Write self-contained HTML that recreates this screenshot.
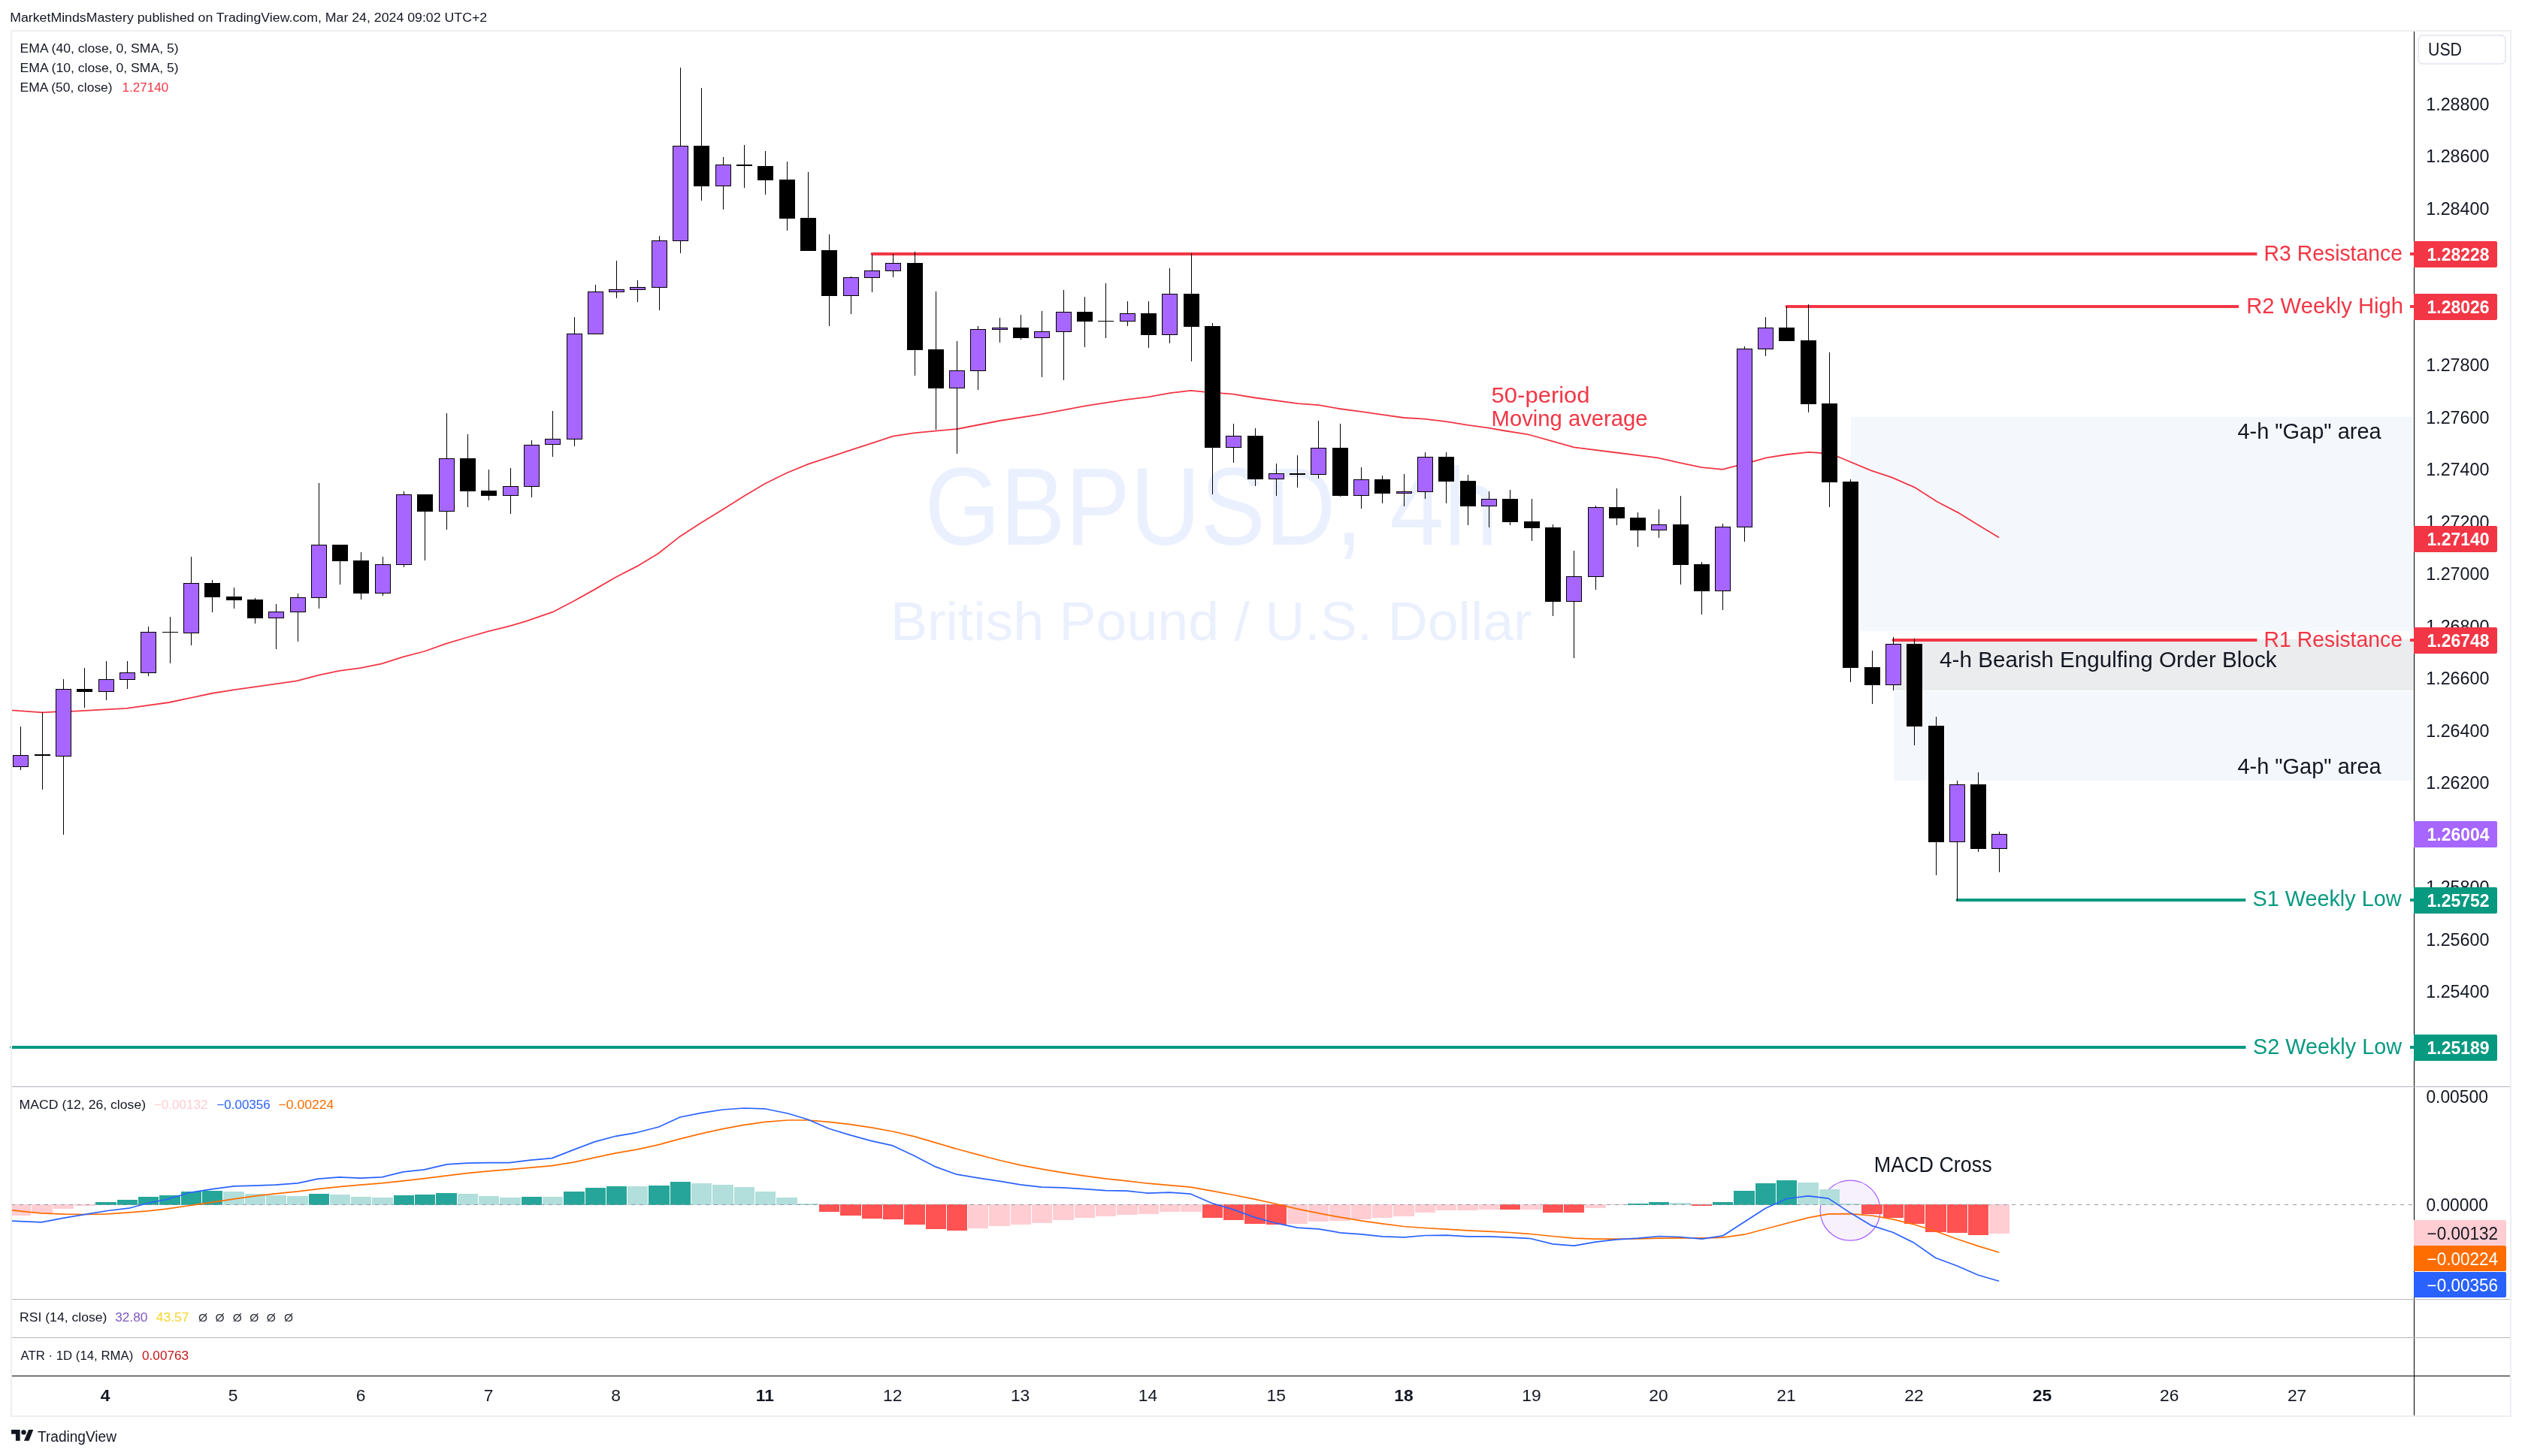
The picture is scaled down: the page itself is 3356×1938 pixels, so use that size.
<!DOCTYPE html><html><head><meta charset="utf-8"><title>GBPUSD 4h</title><style>html,body{margin:0;padding:0;background:#fff;width:3356px;height:1938px;overflow:hidden}svg{display:block;will-change:transform}text{font-family:"Liberation Sans",sans-serif}</style></head><body>
<svg width="3356" height="1938" viewBox="0 0 3356 1938">
<rect x="0" y="0" width="3356" height="1938" fill="#ffffff"/>
<text x="13.2" y="29.0" font-size="17.3" fill="#131722" textLength="635.0" lengthAdjust="spacingAndGlyphs">MarketMindsMastery published on TradingView.com, Mar 24, 2024 09:02 UTC+2</text>
<g id="main">
<text x="1230.4" y="725.0" font-size="147" fill="#ebf0fe" textLength="763.0" lengthAdjust="spacingAndGlyphs">GBPUSD, 4h</text>
<text x="1184.9" y="852.0" font-size="72" fill="#ebf0fe" textLength="853.7" lengthAdjust="spacingAndGlyphs">British Pound / U.S. Dollar</text>
<rect x="2463" y="555" width="749" height="285" fill="#f4f8fd"/>
<rect x="2520" y="851" width="692" height="68" fill="#ebecee"/>
<rect x="2520" y="920" width="692" height="119" fill="#f4f8fd"/>
<polyline points="15.3,945.3 56.6,948.3 74.1,947.4 94.9,946.9 168.2,942.9 224.8,935.0 281.4,923.0 310.0,918.4 394.7,906.3 423.1,898.9 451.5,892.8 479.8,889.2 508.1,883.4 536.4,874.4 564.7,867.0 593.0,856.8 621.3,848.5 649.6,840.3 677.9,833.3 700.0,826.9 735.3,814.7 763.2,800.2 792.1,784.1 819.9,768.0 849.9,752.6 875.6,737.0 903.4,715.1 932.3,696.3 960.1,679.2 989.0,661.0 1018.0,643.8 1046.9,629.5 1075.8,617.7 1104.7,608.1 1132.5,598.9 1160.3,589.9 1188.2,580.7 1216.0,576.4 1244.6,573.7 1273.8,571.0 1330.5,560.0 1385.4,551.4 1443.8,540.4 1498.8,531.8 1528.0,528.4 1557.1,523.2 1584.6,519.8 1605.2,521.8 1641.2,524.7 1670.4,529.5 1727.0,537.1 1754.5,539.1 1782.0,544.0 1812.9,548.1 1840.4,552.2 1867.9,556.0 1895.3,557.7 1924.5,561.1 1953.7,565.9 1981.2,569.7 2000.0,573.0 2034.3,578.5 2065.2,587.1 2094.4,595.3 2151.1,602.5 2206.0,609.4 2237.0,616.3 2264.4,622.1 2291.9,624.8 2329.7,615.2 2350.3,609.4 2377.7,605.0 2406.4,601.9 2424.0,603.0 2446.0,608.0 2490.0,626.4 2517.3,635.4 2547.5,648.6 2577.7,667.8 2605.2,682.1 2632.7,699.1 2660.1,715.6" fill="none" stroke="#f23645" stroke-width="1.8" stroke-linejoin="round"/>
<rect x="1160.5" y="336" width="1842.9" height="4" fill="#f23645"/>
<circle cx="1160.5" cy="338" r="2" fill="#f23645"/>
<rect x="2377.5" y="406" width="601.6999999999998" height="4" fill="#f23645"/>
<circle cx="2377.5" cy="408" r="2" fill="#f23645"/>
<rect x="2519.5" y="850" width="483.9000000000001" height="4" fill="#f23645"/>
<circle cx="2519.5" cy="852" r="2" fill="#f23645"/>
<rect x="2604.5" y="1196" width="383.8000000000002" height="4" fill="#089981"/>
<circle cx="2604.5" cy="1198" r="2" fill="#089981"/>
<rect x="15" y="1392" width="2973.5" height="4" fill="#089981"/>
<circle cx="15" cy="1394" r="2" fill="#089981"/>
<rect x="27" y="967" width="1" height="58" fill="#000"/>
<rect x="17" y="1005" width="21" height="16" fill="#000"/>
<rect x="18" y="1006" width="19" height="14" fill="#a666ff"/>
<rect x="56" y="948" width="1" height="103" fill="#000"/>
<rect x="46" y="1004" width="21" height="2" fill="#000"/>
<rect x="84" y="904" width="1" height="207" fill="#000"/>
<rect x="74" y="917" width="21" height="90" fill="#000"/>
<rect x="75" y="918" width="19" height="88" fill="#a666ff"/>
<rect x="112" y="889" width="1" height="53" fill="#000"/>
<rect x="102" y="917" width="21" height="4" fill="#000"/>
<rect x="141" y="880" width="1" height="52" fill="#000"/>
<rect x="131" y="904" width="21" height="17" fill="#000"/>
<rect x="132" y="905" width="19" height="15" fill="#a666ff"/>
<rect x="169" y="880" width="1" height="37" fill="#000"/>
<rect x="159" y="895" width="21" height="10" fill="#000"/>
<rect x="160" y="896" width="19" height="8" fill="#a666ff"/>
<rect x="197" y="834" width="1" height="66" fill="#000"/>
<rect x="187" y="841" width="21" height="55" fill="#000"/>
<rect x="188" y="842" width="19" height="53" fill="#a666ff"/>
<rect x="226" y="821" width="1" height="62" fill="#000"/>
<rect x="216" y="841" width="21" height="1" fill="#000"/>
<rect x="254" y="741" width="1" height="118" fill="#000"/>
<rect x="244" y="776" width="21" height="67" fill="#000"/>
<rect x="245" y="777" width="19" height="65" fill="#a666ff"/>
<rect x="282" y="772" width="1" height="43" fill="#000"/>
<rect x="272" y="776" width="21" height="19" fill="#000"/>
<rect x="311" y="782" width="1" height="28" fill="#000"/>
<rect x="301" y="794" width="21" height="5" fill="#000"/>
<rect x="339" y="796" width="1" height="34" fill="#000"/>
<rect x="329" y="798" width="21" height="25" fill="#000"/>
<rect x="367" y="804" width="1" height="60" fill="#000"/>
<rect x="357" y="814" width="21" height="9" fill="#000"/>
<rect x="358" y="815" width="19" height="7" fill="#a666ff"/>
<rect x="396" y="790" width="1" height="64" fill="#000"/>
<rect x="386" y="795" width="21" height="20" fill="#000"/>
<rect x="387" y="796" width="19" height="18" fill="#a666ff"/>
<rect x="424" y="643" width="1" height="167" fill="#000"/>
<rect x="414" y="725" width="21" height="71" fill="#000"/>
<rect x="415" y="726" width="19" height="69" fill="#a666ff"/>
<rect x="452" y="725" width="1" height="53" fill="#000"/>
<rect x="442" y="725" width="21" height="22" fill="#000"/>
<rect x="480" y="735" width="1" height="63" fill="#000"/>
<rect x="470" y="746" width="21" height="44" fill="#000"/>
<rect x="509" y="741" width="1" height="52" fill="#000"/>
<rect x="499" y="751" width="21" height="39" fill="#000"/>
<rect x="500" y="752" width="19" height="37" fill="#a666ff"/>
<rect x="537" y="654" width="1" height="101" fill="#000"/>
<rect x="527" y="658" width="21" height="94" fill="#000"/>
<rect x="528" y="659" width="19" height="92" fill="#a666ff"/>
<rect x="565" y="658" width="1" height="88" fill="#000"/>
<rect x="555" y="658" width="21" height="23" fill="#000"/>
<rect x="594" y="550" width="1" height="155" fill="#000"/>
<rect x="584" y="610" width="21" height="71" fill="#000"/>
<rect x="585" y="611" width="19" height="69" fill="#a666ff"/>
<rect x="622" y="578" width="1" height="97" fill="#000"/>
<rect x="612" y="610" width="21" height="44" fill="#000"/>
<rect x="650" y="625" width="1" height="41" fill="#000"/>
<rect x="640" y="653" width="21" height="7" fill="#000"/>
<rect x="679" y="623" width="1" height="61" fill="#000"/>
<rect x="669" y="647" width="21" height="13" fill="#000"/>
<rect x="670" y="648" width="19" height="11" fill="#a666ff"/>
<rect x="707" y="586" width="1" height="76" fill="#000"/>
<rect x="697" y="592" width="21" height="56" fill="#000"/>
<rect x="698" y="593" width="19" height="54" fill="#a666ff"/>
<rect x="735" y="547" width="1" height="61" fill="#000"/>
<rect x="725" y="584" width="21" height="8" fill="#000"/>
<rect x="726" y="585" width="19" height="6" fill="#a666ff"/>
<rect x="764" y="422" width="1" height="172" fill="#000"/>
<rect x="754" y="444" width="21" height="141" fill="#000"/>
<rect x="755" y="445" width="19" height="139" fill="#a666ff"/>
<rect x="792" y="379" width="1" height="66" fill="#000"/>
<rect x="782" y="388" width="21" height="57" fill="#000"/>
<rect x="783" y="389" width="19" height="55" fill="#a666ff"/>
<rect x="820" y="347" width="1" height="50" fill="#000"/>
<rect x="810" y="385" width="21" height="4" fill="#000"/>
<rect x="811" y="386" width="19" height="2" fill="#a666ff"/>
<rect x="848" y="373" width="1" height="29" fill="#000"/>
<rect x="838" y="382" width="21" height="4" fill="#000"/>
<rect x="839" y="383" width="19" height="2" fill="#a666ff"/>
<rect x="877" y="314" width="1" height="99" fill="#000"/>
<rect x="867" y="320" width="21" height="63" fill="#000"/>
<rect x="868" y="321" width="19" height="61" fill="#a666ff"/>
<rect x="905" y="90" width="1" height="247" fill="#000"/>
<rect x="895" y="194" width="21" height="127" fill="#000"/>
<rect x="896" y="195" width="19" height="125" fill="#a666ff"/>
<rect x="933" y="117" width="1" height="150" fill="#000"/>
<rect x="923" y="194" width="21" height="54" fill="#000"/>
<rect x="962" y="209" width="1" height="70" fill="#000"/>
<rect x="952" y="219" width="21" height="29" fill="#000"/>
<rect x="953" y="220" width="19" height="27" fill="#a666ff"/>
<rect x="990" y="193" width="1" height="57" fill="#000"/>
<rect x="980" y="219" width="21" height="2" fill="#000"/>
<rect x="1018" y="201" width="1" height="58" fill="#000"/>
<rect x="1008" y="221" width="21" height="19" fill="#000"/>
<rect x="1047" y="215" width="1" height="92" fill="#000"/>
<rect x="1037" y="239" width="21" height="52" fill="#000"/>
<rect x="1075" y="229" width="1" height="105" fill="#000"/>
<rect x="1065" y="290" width="21" height="44" fill="#000"/>
<rect x="1103" y="312" width="1" height="122" fill="#000"/>
<rect x="1093" y="333" width="21" height="61" fill="#000"/>
<rect x="1132" y="368" width="1" height="50" fill="#000"/>
<rect x="1122" y="369" width="21" height="25" fill="#000"/>
<rect x="1123" y="370" width="19" height="23" fill="#a666ff"/>
<rect x="1160" y="339" width="1" height="50" fill="#000"/>
<rect x="1150" y="360" width="21" height="10" fill="#000"/>
<rect x="1151" y="361" width="19" height="8" fill="#a666ff"/>
<rect x="1188" y="338" width="1" height="31" fill="#000"/>
<rect x="1178" y="350" width="21" height="11" fill="#000"/>
<rect x="1179" y="351" width="19" height="9" fill="#a666ff"/>
<rect x="1217" y="335" width="1" height="165" fill="#000"/>
<rect x="1207" y="350" width="21" height="116" fill="#000"/>
<rect x="1245" y="388" width="1" height="184" fill="#000"/>
<rect x="1235" y="465" width="21" height="52" fill="#000"/>
<rect x="1273" y="454" width="1" height="150" fill="#000"/>
<rect x="1263" y="493" width="21" height="24" fill="#000"/>
<rect x="1264" y="494" width="19" height="22" fill="#a666ff"/>
<rect x="1301" y="434" width="1" height="85" fill="#000"/>
<rect x="1291" y="438" width="21" height="56" fill="#000"/>
<rect x="1292" y="439" width="19" height="54" fill="#a666ff"/>
<rect x="1330" y="423" width="1" height="33" fill="#000"/>
<rect x="1320" y="436" width="21" height="3" fill="#000"/>
<rect x="1321" y="437" width="19" height="1" fill="#a666ff"/>
<rect x="1358" y="419" width="1" height="33" fill="#000"/>
<rect x="1348" y="436" width="21" height="14" fill="#000"/>
<rect x="1386" y="414" width="1" height="88" fill="#000"/>
<rect x="1376" y="441" width="21" height="9" fill="#000"/>
<rect x="1377" y="442" width="19" height="7" fill="#a666ff"/>
<rect x="1415" y="386" width="1" height="120" fill="#000"/>
<rect x="1405" y="415" width="21" height="27" fill="#000"/>
<rect x="1406" y="416" width="19" height="25" fill="#a666ff"/>
<rect x="1443" y="395" width="1" height="67" fill="#000"/>
<rect x="1433" y="415" width="21" height="13" fill="#000"/>
<rect x="1471" y="377" width="1" height="73" fill="#000"/>
<rect x="1461" y="427" width="21" height="1" fill="#000"/>
<rect x="1500" y="401" width="1" height="33" fill="#000"/>
<rect x="1490" y="417" width="21" height="11" fill="#000"/>
<rect x="1491" y="418" width="19" height="9" fill="#a666ff"/>
<rect x="1528" y="401" width="1" height="62" fill="#000"/>
<rect x="1518" y="417" width="21" height="29" fill="#000"/>
<rect x="1556" y="357" width="1" height="100" fill="#000"/>
<rect x="1546" y="391" width="21" height="55" fill="#000"/>
<rect x="1547" y="392" width="19" height="53" fill="#a666ff"/>
<rect x="1585" y="337" width="1" height="144" fill="#000"/>
<rect x="1575" y="391" width="21" height="44" fill="#000"/>
<rect x="1613" y="430" width="1" height="228" fill="#000"/>
<rect x="1603" y="434" width="21" height="162" fill="#000"/>
<rect x="1641" y="564" width="1" height="52" fill="#000"/>
<rect x="1631" y="580" width="21" height="16" fill="#000"/>
<rect x="1632" y="581" width="19" height="14" fill="#a666ff"/>
<rect x="1670" y="570" width="1" height="77" fill="#000"/>
<rect x="1660" y="580" width="21" height="58" fill="#000"/>
<rect x="1698" y="617" width="1" height="43" fill="#000"/>
<rect x="1688" y="630" width="21" height="8" fill="#000"/>
<rect x="1689" y="631" width="19" height="6" fill="#a666ff"/>
<rect x="1726" y="606" width="1" height="43" fill="#000"/>
<rect x="1716" y="630" width="21" height="2" fill="#000"/>
<rect x="1754" y="560" width="1" height="77" fill="#000"/>
<rect x="1744" y="596" width="21" height="36" fill="#000"/>
<rect x="1745" y="597" width="19" height="34" fill="#a666ff"/>
<rect x="1783" y="564" width="1" height="97" fill="#000"/>
<rect x="1773" y="596" width="21" height="64" fill="#000"/>
<rect x="1811" y="622" width="1" height="55" fill="#000"/>
<rect x="1801" y="638" width="21" height="22" fill="#000"/>
<rect x="1802" y="639" width="19" height="20" fill="#a666ff"/>
<rect x="1839" y="633" width="1" height="37" fill="#000"/>
<rect x="1829" y="638" width="21" height="19" fill="#000"/>
<rect x="1868" y="631" width="1" height="43" fill="#000"/>
<rect x="1858" y="654" width="21" height="3" fill="#000"/>
<rect x="1859" y="655" width="19" height="1" fill="#a666ff"/>
<rect x="1896" y="602" width="1" height="62" fill="#000"/>
<rect x="1886" y="608" width="21" height="47" fill="#000"/>
<rect x="1887" y="609" width="19" height="45" fill="#a666ff"/>
<rect x="1924" y="602" width="1" height="68" fill="#000"/>
<rect x="1914" y="608" width="21" height="33" fill="#000"/>
<rect x="1953" y="632" width="1" height="67" fill="#000"/>
<rect x="1943" y="640" width="21" height="34" fill="#000"/>
<rect x="1981" y="654" width="1" height="48" fill="#000"/>
<rect x="1971" y="664" width="21" height="10" fill="#000"/>
<rect x="1972" y="665" width="19" height="8" fill="#a666ff"/>
<rect x="2009" y="652" width="1" height="47" fill="#000"/>
<rect x="1999" y="664" width="21" height="31" fill="#000"/>
<rect x="2038" y="664" width="1" height="56" fill="#000"/>
<rect x="2028" y="694" width="21" height="9" fill="#000"/>
<rect x="2066" y="698" width="1" height="122" fill="#000"/>
<rect x="2056" y="702" width="21" height="99" fill="#000"/>
<rect x="2094" y="733" width="1" height="143" fill="#000"/>
<rect x="2084" y="767" width="21" height="34" fill="#000"/>
<rect x="2085" y="768" width="19" height="32" fill="#a666ff"/>
<rect x="2123" y="673" width="1" height="112" fill="#000"/>
<rect x="2113" y="675" width="21" height="93" fill="#000"/>
<rect x="2114" y="676" width="19" height="91" fill="#a666ff"/>
<rect x="2151" y="650" width="1" height="49" fill="#000"/>
<rect x="2141" y="675" width="21" height="15" fill="#000"/>
<rect x="2179" y="682" width="1" height="46" fill="#000"/>
<rect x="2169" y="689" width="21" height="17" fill="#000"/>
<rect x="2207" y="678" width="1" height="38" fill="#000"/>
<rect x="2197" y="698" width="21" height="8" fill="#000"/>
<rect x="2198" y="699" width="19" height="6" fill="#a666ff"/>
<rect x="2236" y="660" width="1" height="118" fill="#000"/>
<rect x="2226" y="698" width="21" height="54" fill="#000"/>
<rect x="2264" y="748" width="1" height="70" fill="#000"/>
<rect x="2254" y="751" width="21" height="36" fill="#000"/>
<rect x="2292" y="697" width="1" height="115" fill="#000"/>
<rect x="2282" y="701" width="21" height="86" fill="#000"/>
<rect x="2283" y="702" width="19" height="84" fill="#a666ff"/>
<rect x="2321" y="461" width="1" height="260" fill="#000"/>
<rect x="2311" y="464" width="21" height="238" fill="#000"/>
<rect x="2312" y="465" width="19" height="236" fill="#a666ff"/>
<rect x="2349" y="422" width="1" height="52" fill="#000"/>
<rect x="2339" y="436" width="21" height="29" fill="#000"/>
<rect x="2340" y="437" width="19" height="27" fill="#a666ff"/>
<rect x="2377" y="408" width="1" height="46" fill="#000"/>
<rect x="2367" y="436" width="21" height="18" fill="#000"/>
<rect x="2406" y="405" width="1" height="144" fill="#000"/>
<rect x="2396" y="453" width="21" height="85" fill="#000"/>
<rect x="2434" y="469" width="1" height="206" fill="#000"/>
<rect x="2424" y="537" width="21" height="105" fill="#000"/>
<rect x="2462" y="638" width="1" height="270" fill="#000"/>
<rect x="2452" y="641" width="21" height="248" fill="#000"/>
<rect x="2491" y="866" width="1" height="71" fill="#000"/>
<rect x="2481" y="888" width="21" height="24" fill="#000"/>
<rect x="2519" y="848" width="1" height="71" fill="#000"/>
<rect x="2509" y="857" width="21" height="55" fill="#000"/>
<rect x="2510" y="858" width="19" height="53" fill="#a666ff"/>
<rect x="2547" y="850" width="1" height="142" fill="#000"/>
<rect x="2537" y="857" width="21" height="110" fill="#000"/>
<rect x="2576" y="954" width="1" height="211" fill="#000"/>
<rect x="2566" y="966" width="21" height="155" fill="#000"/>
<rect x="2604" y="1039" width="1" height="160" fill="#000"/>
<rect x="2594" y="1044" width="21" height="77" fill="#000"/>
<rect x="2595" y="1045" width="19" height="75" fill="#a666ff"/>
<rect x="2632" y="1028" width="1" height="106" fill="#000"/>
<rect x="2622" y="1044" width="21" height="86" fill="#000"/>
<rect x="2660" y="1107" width="1" height="54" fill="#000"/>
<rect x="2650" y="1110" width="21" height="20" fill="#000"/>
<rect x="2651" y="1111" width="19" height="18" fill="#a666ff"/>
<text x="3012.6" y="347.4" font-size="28.6" fill="#f23645" textLength="184.4" lengthAdjust="spacingAndGlyphs">R3 Resistance</text>
<text x="2989.2" y="417.2" font-size="28.6" fill="#f23645" textLength="208.8" lengthAdjust="spacingAndGlyphs">R2 Weekly High</text>
<text x="3012.6" y="860.8" font-size="28.6" fill="#f23645" textLength="184.4" lengthAdjust="spacingAndGlyphs">R1 Resistance</text>
<text x="2997.5" y="1205.9" font-size="28.6" fill="#089981" textLength="198.0" lengthAdjust="spacingAndGlyphs">S1 Weekly Low</text>
<text x="2998.0" y="1403.0" font-size="28.6" fill="#089981" textLength="198.0" lengthAdjust="spacingAndGlyphs">S2 Weekly Low</text>
<text x="2977.4" y="584.4" font-size="28.6" fill="#131722" textLength="191.2" lengthAdjust="spacingAndGlyphs">4-h "Gap" area</text>
<text x="2977.4" y="1030.4" font-size="28.6" fill="#131722" textLength="191.2" lengthAdjust="spacingAndGlyphs">4-h "Gap" area</text>
<text x="2581.0" y="888.0" font-size="28.6" fill="#131722" textLength="448.6" lengthAdjust="spacingAndGlyphs">4-h Bearish Engulfing Order Block</text>
<text x="1984.6" y="536.4" font-size="28.6" fill="#f23645" textLength="131.0" lengthAdjust="spacingAndGlyphs">50-period</text>
<text x="1984.6" y="566.6" font-size="28.6" fill="#f23645" textLength="208.0" lengthAdjust="spacingAndGlyphs">Moving average</text>
<text x="26.6" y="69.8" font-size="16.6" fill="#131722" textLength="211.0" lengthAdjust="spacingAndGlyphs">EMA (40, close, 0, SMA, 5)</text>
<text x="26.6" y="96.0" font-size="16.6" fill="#131722" textLength="211.0" lengthAdjust="spacingAndGlyphs">EMA (10, close, 0, SMA, 5)</text>
<text x="26.6" y="122.1" font-size="16.6" fill="#131722" textLength="123.0" lengthAdjust="spacingAndGlyphs">EMA (50, close)</text>
<text x="162.6" y="122.1" font-size="16.6" fill="#f23645" textLength="61.5" lengthAdjust="spacingAndGlyphs">1.27140</text>
</g>
<circle cx="2462.1" cy="1611.2" r="40" fill="#f7f1fe" stroke="#a65cff" stroke-width="1.2"/>
<rect x="16" y="1603" width="25" height="15" fill="#ffcdd2"/>
<rect x="42" y="1603" width="28" height="12" fill="#ffcdd2"/>
<rect x="71" y="1603" width="27" height="6" fill="#ffcdd2"/>
<rect x="99" y="1603" width="27" height="2" fill="#ffcdd2"/>
<rect x="127" y="1600" width="28" height="4" fill="#26a69a"/>
<rect x="156" y="1597" width="27" height="7" fill="#26a69a"/>
<rect x="184" y="1593" width="27" height="11" fill="#26a69a"/>
<rect x="212" y="1591" width="28" height="13" fill="#26a69a"/>
<rect x="241" y="1586" width="27" height="18" fill="#26a69a"/>
<rect x="269" y="1585" width="27" height="19" fill="#26a69a"/>
<rect x="297" y="1586" width="28" height="18" fill="#b2dfdb"/>
<rect x="326" y="1589" width="27" height="15" fill="#b2dfdb"/>
<rect x="354" y="1591" width="27" height="13" fill="#b2dfdb"/>
<rect x="382" y="1592" width="28" height="12" fill="#b2dfdb"/>
<rect x="411" y="1589" width="27" height="15" fill="#26a69a"/>
<rect x="439" y="1590" width="27" height="14" fill="#b2dfdb"/>
<rect x="467" y="1593" width="27" height="11" fill="#b2dfdb"/>
<rect x="495" y="1594" width="28" height="10" fill="#b2dfdb"/>
<rect x="524" y="1591" width="27" height="13" fill="#26a69a"/>
<rect x="552" y="1590" width="27" height="14" fill="#26a69a"/>
<rect x="580" y="1588" width="28" height="16" fill="#26a69a"/>
<rect x="609" y="1589" width="27" height="15" fill="#b2dfdb"/>
<rect x="637" y="1592" width="27" height="12" fill="#b2dfdb"/>
<rect x="665" y="1594" width="28" height="10" fill="#b2dfdb"/>
<rect x="694" y="1593" width="27" height="11" fill="#26a69a"/>
<rect x="722" y="1593" width="27" height="11" fill="#b2dfdb"/>
<rect x="750" y="1586" width="28" height="18" fill="#26a69a"/>
<rect x="779" y="1581" width="27" height="23" fill="#26a69a"/>
<rect x="807" y="1579" width="27" height="25" fill="#26a69a"/>
<rect x="835" y="1579" width="27" height="25" fill="#b2dfdb"/>
<rect x="863" y="1578" width="28" height="26" fill="#26a69a"/>
<rect x="892" y="1573" width="27" height="31" fill="#26a69a"/>
<rect x="920" y="1575" width="27" height="29" fill="#b2dfdb"/>
<rect x="948" y="1577" width="28" height="27" fill="#b2dfdb"/>
<rect x="977" y="1580" width="27" height="24" fill="#b2dfdb"/>
<rect x="1005" y="1586" width="27" height="18" fill="#b2dfdb"/>
<rect x="1033" y="1594" width="28" height="10" fill="#b2dfdb"/>
<rect x="1062" y="1602" width="27" height="2" fill="#b2dfdb"/>
<rect x="1090" y="1603" width="27" height="10" fill="#ff5252"/>
<rect x="1118" y="1603" width="28" height="15" fill="#ff5252"/>
<rect x="1147" y="1603" width="27" height="19" fill="#ff5252"/>
<rect x="1175" y="1603" width="27" height="20" fill="#ff5252"/>
<rect x="1203" y="1603" width="28" height="27" fill="#ff5252"/>
<rect x="1232" y="1603" width="27" height="33" fill="#ff5252"/>
<rect x="1260" y="1603" width="27" height="35" fill="#ff5252"/>
<rect x="1288" y="1603" width="27" height="32" fill="#ffcdd2"/>
<rect x="1316" y="1603" width="28" height="29" fill="#ffcdd2"/>
<rect x="1345" y="1603" width="27" height="27" fill="#ffcdd2"/>
<rect x="1373" y="1603" width="27" height="25" fill="#ffcdd2"/>
<rect x="1401" y="1603" width="28" height="21" fill="#ffcdd2"/>
<rect x="1430" y="1603" width="27" height="18" fill="#ffcdd2"/>
<rect x="1458" y="1603" width="27" height="16" fill="#ffcdd2"/>
<rect x="1486" y="1603" width="28" height="14" fill="#ffcdd2"/>
<rect x="1515" y="1603" width="27" height="13" fill="#ffcdd2"/>
<rect x="1543" y="1603" width="27" height="10" fill="#ffcdd2"/>
<rect x="1571" y="1603" width="28" height="10" fill="#ffcdd2"/>
<rect x="1600" y="1603" width="27" height="18" fill="#ff5252"/>
<rect x="1628" y="1603" width="27" height="21" fill="#ff5252"/>
<rect x="1656" y="1603" width="28" height="26" fill="#ff5252"/>
<rect x="1685" y="1603" width="27" height="27" fill="#ff5252"/>
<rect x="1713" y="1603" width="27" height="26" fill="#ffcdd2"/>
<rect x="1741" y="1603" width="27" height="23" fill="#ffcdd2"/>
<rect x="1769" y="1603" width="28" height="22" fill="#ffcdd2"/>
<rect x="1798" y="1603" width="27" height="20" fill="#ffcdd2"/>
<rect x="1826" y="1603" width="27" height="18" fill="#ffcdd2"/>
<rect x="1854" y="1603" width="28" height="16" fill="#ffcdd2"/>
<rect x="1883" y="1603" width="27" height="11" fill="#ffcdd2"/>
<rect x="1911" y="1603" width="27" height="8" fill="#ffcdd2"/>
<rect x="1939" y="1603" width="28" height="8" fill="#ffcdd2"/>
<rect x="1968" y="1603" width="27" height="7" fill="#ffcdd2"/>
<rect x="1996" y="1603" width="27" height="7" fill="#ff5252"/>
<rect x="2024" y="1603" width="28" height="7" fill="#ffcdd2"/>
<rect x="2053" y="1603" width="27" height="11" fill="#ff5252"/>
<rect x="2081" y="1603" width="27" height="11" fill="#ff5252"/>
<rect x="2109" y="1603" width="28" height="5" fill="#ffcdd2"/>
<rect x="2138" y="1603" width="27" height="1" fill="#ffcdd2"/>
<rect x="2166" y="1602" width="27" height="2" fill="#26a69a"/>
<rect x="2194" y="1600" width="27" height="4" fill="#26a69a"/>
<rect x="2222" y="1601" width="28" height="3" fill="#b2dfdb"/>
<rect x="2251" y="1603" width="27" height="2" fill="#ff5252"/>
<rect x="2279" y="1600" width="27" height="4" fill="#26a69a"/>
<rect x="2307" y="1585" width="28" height="19" fill="#26a69a"/>
<rect x="2336" y="1575" width="27" height="29" fill="#26a69a"/>
<rect x="2364" y="1571" width="27" height="33" fill="#26a69a"/>
<rect x="2392" y="1574" width="28" height="30" fill="#b2dfdb"/>
<rect x="2421" y="1583" width="27" height="21" fill="#b2dfdb"/>
<rect x="2449" y="1602" width="27" height="2" fill="#b2dfdb"/>
<rect x="2477" y="1603" width="28" height="13" fill="#ff5252"/>
<rect x="2506" y="1603" width="27" height="18" fill="#ff5252"/>
<rect x="2534" y="1603" width="27" height="26" fill="#ff5252"/>
<rect x="2562" y="1603" width="28" height="37" fill="#ff5252"/>
<rect x="2591" y="1603" width="27" height="38" fill="#ff5252"/>
<rect x="2619" y="1603" width="27" height="41" fill="#ff5252"/>
<rect x="2647" y="1603" width="27" height="39" fill="#ffcdd2"/>
<line x1="15" y1="1603.5" x2="3210" y2="1603.5" stroke="#9598a1" stroke-width="1" stroke-dasharray="5 6"/>
<polyline points="15.7,1610.9 55.0,1614.9 86.6,1616.2 116.6,1616.5 143.2,1615.9 171.5,1613.9 196.5,1611.9 221.5,1609.2 253.1,1604.5 283.1,1600.2 311.4,1595.9 338.0,1592.2 366.4,1588.9 396.3,1585.9 423.0,1582.6 451.3,1579.6 479.6,1577.2 507.9,1574.9 536.2,1571.9 564.5,1568.6 594.5,1564.9 621.2,1561.6 649.5,1558.9 677.8,1556.6 706.1,1554.2 734.4,1551.6 762.7,1547.2 791.0,1540.9 819.3,1534.9 848.3,1529.9 876.6,1523.6 904.9,1515.9 933.2,1508.9 961.6,1502.6 989.9,1497.3 1018.8,1493.3 1048.2,1491.0 1074.8,1491.0 1103.1,1493.3 1131.4,1496.6 1159.7,1500.9 1188.0,1506.0 1216.3,1512.6 1244.6,1520.9 1273.0,1529.3 1301.3,1536.9 1329.6,1544.2 1357.9,1550.9 1386.2,1556.2 1414.5,1560.9 1442.8,1565.2 1471.1,1568.9 1499.5,1571.9 1527.8,1575.2 1556.1,1577.6 1584.4,1580.2 1612.7,1585.2 1641.0,1590.5 1668.3,1595.9 1698.3,1602.5 1726.6,1609.2 1754.9,1614.9 1783.2,1620.2 1811.5,1624.9 1839.8,1628.8 1868.2,1632.5 1896.5,1634.5 1924.8,1636.2 1953.1,1637.8 1981.4,1639.2 2009.7,1640.5 2036.3,1642.5 2066.3,1645.5 2094.6,1648.2 2123.0,1649.2 2151.3,1649.2 2179.6,1648.8 2207.9,1648.2 2236.2,1647.8 2264.5,1647.8 2292.8,1647.2 2321.1,1643.2 2349.4,1635.8 2377.7,1628.2 2406.0,1620.9 2433.0,1615.9 2462.6,1615.6 2490.7,1618.0 2518.7,1622.8 2546.7,1629.7 2575.6,1638.8 2604.4,1649.2 2632.5,1658.6 2660.2,1667.0" fill="none" stroke="#ff6d00" stroke-width="1.7" stroke-linejoin="round"/>
<polyline points="15.7,1625.2 55.0,1626.9 86.6,1620.9 116.6,1615.9 143.2,1611.5 171.5,1608.2 196.5,1601.5 221.5,1596.5 253.1,1587.2 283.1,1582.6 311.4,1578.9 338.0,1578.2 366.4,1577.2 396.3,1574.9 423.0,1569.2 451.3,1566.9 479.6,1568.2 507.9,1566.9 536.2,1559.9 564.5,1556.9 594.5,1549.9 621.2,1548.2 649.5,1547.6 677.8,1547.6 706.1,1544.2 734.4,1541.6 762.7,1530.6 791.0,1519.9 819.3,1512.3 848.3,1507.3 876.6,1500.0 904.9,1487.0 933.2,1481.3 961.6,1477.0 989.9,1475.0 1018.8,1476.0 1048.2,1482.0 1074.8,1490.0 1103.1,1502.3 1131.4,1510.9 1159.7,1518.6 1188.0,1524.9 1216.3,1538.3 1244.6,1552.9 1273.0,1563.2 1301.3,1567.9 1329.6,1572.2 1357.9,1576.9 1386.2,1580.2 1414.5,1580.9 1442.8,1582.6 1471.1,1584.6 1499.5,1585.2 1527.8,1588.2 1556.1,1587.2 1584.4,1589.2 1612.7,1601.5 1641.0,1609.9 1668.3,1619.9 1698.3,1628.2 1726.6,1634.2 1754.9,1635.8 1783.2,1640.8 1811.5,1642.8 1839.8,1645.8 1868.2,1646.8 1896.5,1644.5 1924.8,1644.2 1953.1,1645.8 1981.4,1645.8 2009.7,1647.2 2036.3,1648.5 2066.3,1655.8 2094.6,1658.2 2123.0,1653.2 2151.3,1649.8 2179.6,1648.2 2207.9,1645.5 2236.2,1646.5 2264.5,1649.2 2292.8,1644.8 2321.1,1626.5 2349.4,1608.2 2377.7,1595.5 2406.0,1591.9 2433.0,1595.1 2462.6,1614.6 2490.7,1631.4 2518.7,1640.3 2546.7,1654.1 2575.6,1674.3 2604.4,1685.0 2632.5,1697.3 2660.2,1705.3" fill="none" stroke="#2962ff" stroke-width="1.7" stroke-linejoin="round"/>
<text x="2493.8" y="1559.9" font-size="28.6" fill="#131722" textLength="156.8" lengthAdjust="spacingAndGlyphs">MACD Cross</text>
<text x="25.6" y="1476.0" font-size="16.6" fill="#131722" textLength="168.5" lengthAdjust="spacingAndGlyphs">MACD (12, 26, close)</text>
<text x="204.8" y="1476.0" font-size="16.6" fill="#ffcdd2" textLength="71.6" lengthAdjust="spacingAndGlyphs">−0.00132</text>
<text x="288.4" y="1476.0" font-size="16.6" fill="#2962ff" textLength="71.3" lengthAdjust="spacingAndGlyphs">−0.00356</text>
<text x="370.4" y="1476.0" font-size="16.6" fill="#ff6d00" textLength="74.0" lengthAdjust="spacingAndGlyphs">−0.00224</text>
<text x="26.0" y="1759.1" font-size="16.6" fill="#131722" textLength="116.5" lengthAdjust="spacingAndGlyphs">RSI (14, close)</text>
<text x="153.2" y="1759.1" font-size="16.6" fill="#7e57c2" textLength="43.3" lengthAdjust="spacingAndGlyphs">32.80</text>
<text x="207.8" y="1759.1" font-size="16.6" fill="#f7d52a" textLength="43.7" lengthAdjust="spacingAndGlyphs">43.57</text>
<text x="264.0" y="1759.1" font-size="15.5" fill="#2a2e39">Ø</text>
<text x="286.4" y="1759.1" font-size="15.5" fill="#2a2e39">Ø</text>
<text x="309.7" y="1759.1" font-size="15.5" fill="#2a2e39">Ø</text>
<text x="332.2" y="1759.1" font-size="15.5" fill="#2a2e39">Ø</text>
<text x="354.7" y="1759.1" font-size="15.5" fill="#2a2e39">Ø</text>
<text x="378.0" y="1759.1" font-size="15.5" fill="#2a2e39">Ø</text>
<text x="27.5" y="1810.3" font-size="16.6" fill="#131722" textLength="149.8" lengthAdjust="spacingAndGlyphs">ATR · 1D (14, RMA)</text>
<text x="189.0" y="1810.3" font-size="16.6" fill="#c2181b" textLength="62.1" lengthAdjust="spacingAndGlyphs">0.00763</text>
<rect x="15" y="41" width="3326" height="1844" fill="none" stroke="#eeeff3" stroke-width="2"/>
<rect x="3212" y="42" width="1" height="1842" fill="#000"/>
<rect x="16" y="1446" width="3324" height="1" fill="#b2b5be"/>
<rect x="16" y="1729" width="3324" height="1" fill="#b2b5be"/>
<rect x="16" y="1780" width="3324" height="1" fill="#b2b5be"/>
<rect x="16" y="1831" width="3324" height="1" fill="#000"/>
<text x="3228.2" y="146.7" font-size="23.3" fill="#131722" textLength="84.3" lengthAdjust="spacingAndGlyphs">1.28800</text>
<text x="3228.2" y="216.2" font-size="23.3" fill="#131722" textLength="84.3" lengthAdjust="spacingAndGlyphs">1.28600</text>
<text x="3228.2" y="285.7" font-size="23.3" fill="#131722" textLength="84.3" lengthAdjust="spacingAndGlyphs">1.28400</text>
<text x="3228.2" y="494.2" font-size="23.3" fill="#131722" textLength="84.3" lengthAdjust="spacingAndGlyphs">1.27800</text>
<text x="3228.2" y="563.7" font-size="23.3" fill="#131722" textLength="84.3" lengthAdjust="spacingAndGlyphs">1.27600</text>
<text x="3228.2" y="633.2" font-size="23.3" fill="#131722" textLength="84.3" lengthAdjust="spacingAndGlyphs">1.27400</text>
<text x="3228.2" y="702.7" font-size="23.3" fill="#131722" textLength="84.3" lengthAdjust="spacingAndGlyphs">1.27200</text>
<text x="3228.2" y="772.2" font-size="23.3" fill="#131722" textLength="84.3" lengthAdjust="spacingAndGlyphs">1.27000</text>
<text x="3228.2" y="841.7" font-size="23.3" fill="#131722" textLength="84.3" lengthAdjust="spacingAndGlyphs">1.26800</text>
<text x="3228.2" y="911.2" font-size="23.3" fill="#131722" textLength="84.3" lengthAdjust="spacingAndGlyphs">1.26600</text>
<text x="3228.2" y="980.7" font-size="23.3" fill="#131722" textLength="84.3" lengthAdjust="spacingAndGlyphs">1.26400</text>
<text x="3228.2" y="1050.3" font-size="23.3" fill="#131722" textLength="84.3" lengthAdjust="spacingAndGlyphs">1.26200</text>
<text x="3228.2" y="1189.3" font-size="23.3" fill="#131722" textLength="84.3" lengthAdjust="spacingAndGlyphs">1.25800</text>
<text x="3228.2" y="1258.8" font-size="23.3" fill="#131722" textLength="84.3" lengthAdjust="spacingAndGlyphs">1.25600</text>
<text x="3228.2" y="1328.3" font-size="23.3" fill="#131722" textLength="84.3" lengthAdjust="spacingAndGlyphs">1.25400</text>
<rect x="3218" y="47" width="116" height="38" rx="6" ry="6" fill="#fff" stroke="#e0e3eb" stroke-width="1.4"/>
<text x="3231.0" y="74.3" font-size="23.3" fill="#131722" textLength="45.0" lengthAdjust="spacingAndGlyphs">USD</text>
<path d="M3212,321 H3321 a2,2 0 0 1 2,2 V354 a2,2 0 0 1 -2,2 H3212 Z" fill="#f23645"/>
<rect x="3207" y="336" width="5" height="4" fill="#f23645"/>
<text x="3229.5" y="347.0" font-size="23.3" fill="#fff" font-weight="bold" textLength="83.0" lengthAdjust="spacingAndGlyphs">1.28228</text>
<path d="M3212,391 H3321 a2,2 0 0 1 2,2 V424 a2,2 0 0 1 -2,2 H3212 Z" fill="#f23645"/>
<rect x="3207" y="406" width="5" height="4" fill="#f23645"/>
<text x="3229.5" y="417.0" font-size="23.3" fill="#fff" font-weight="bold" textLength="83.0" lengthAdjust="spacingAndGlyphs">1.28026</text>
<path d="M3212,700 H3321 a2,2 0 0 1 2,2 V733 a2,2 0 0 1 -2,2 H3212 Z" fill="#f23645"/>
<text x="3229.5" y="726.0" font-size="23.3" fill="#fff" font-weight="bold" textLength="83.0" lengthAdjust="spacingAndGlyphs">1.27140</text>
<path d="M3212,835 H3321 a2,2 0 0 1 2,2 V868 a2,2 0 0 1 -2,2 H3212 Z" fill="#f23645"/>
<rect x="3207" y="850" width="5" height="4" fill="#f23645"/>
<text x="3229.5" y="861.0" font-size="23.3" fill="#fff" font-weight="bold" textLength="83.0" lengthAdjust="spacingAndGlyphs">1.26748</text>
<path d="M3212,1093 H3321 a2,2 0 0 1 2,2 V1126 a2,2 0 0 1 -2,2 H3212 Z" fill="#a666ff"/>
<text x="3229.5" y="1119.0" font-size="23.3" fill="#fff" font-weight="bold" textLength="83.0" lengthAdjust="spacingAndGlyphs">1.26004</text>
<path d="M3212,1181 H3321 a2,2 0 0 1 2,2 V1214 a2,2 0 0 1 -2,2 H3212 Z" fill="#089981"/>
<rect x="3207" y="1196" width="5" height="4" fill="#089981"/>
<text x="3229.5" y="1207.0" font-size="23.3" fill="#fff" font-weight="bold" textLength="83.0" lengthAdjust="spacingAndGlyphs">1.25752</text>
<path d="M3212,1377 H3321 a2,2 0 0 1 2,2 V1410 a2,2 0 0 1 -2,2 H3212 Z" fill="#089981"/>
<rect x="3207" y="1392" width="5" height="4" fill="#089981"/>
<text x="3229.5" y="1403.0" font-size="23.3" fill="#fff" font-weight="bold" textLength="83.0" lengthAdjust="spacingAndGlyphs">1.25189</text>
<text x="3228.4" y="1468.0" font-size="23.3" fill="#131722" textLength="82.5" lengthAdjust="spacingAndGlyphs">0.00500</text>
<text x="3228.4" y="1611.7" font-size="23.3" fill="#131722" textLength="82.5" lengthAdjust="spacingAndGlyphs">0.00000</text>
<path d="M3212,1624 H3333 a2,2 0 0 1 2,2 V1656 a2,2 0 0 1 -2,2 H3212 Z" fill="#ffcdd2"/>
<text x="3229.5" y="1649.6" font-size="23.3" fill="#131722" textLength="94.5" lengthAdjust="spacingAndGlyphs">−0.00132</text>
<path d="M3212,1658 H3333 a2,2 0 0 1 2,2 V1690 a2,2 0 0 1 -2,2 H3212 Z" fill="#ff6d00"/>
<text x="3229.5" y="1683.6" font-size="23.3" fill="#ffffff" textLength="94.5" lengthAdjust="spacingAndGlyphs">−0.00224</text>
<path d="M3212,1693 H3333 a2,2 0 0 1 2,2 V1725 a2,2 0 0 1 -2,2 H3212 Z" fill="#2962ff"/>
<text x="3229.5" y="1718.6" font-size="23.3" fill="#ffffff" textLength="94.5" lengthAdjust="spacingAndGlyphs">−0.00356</text>
<text x="140.2" y="1865.0" font-size="22.8" fill="#131722" font-weight="bold" text-anchor="middle">4</text>
<text x="310.0" y="1865.0" font-size="22.8" fill="#131722" text-anchor="middle">5</text>
<text x="480.0" y="1865.0" font-size="22.8" fill="#131722" text-anchor="middle">6</text>
<text x="650.0" y="1865.0" font-size="22.8" fill="#131722" text-anchor="middle">7</text>
<text x="819.7" y="1865.0" font-size="22.8" fill="#131722" text-anchor="middle">8</text>
<text x="1017.9" y="1865.0" font-size="22.8" fill="#131722" font-weight="bold" text-anchor="middle">11</text>
<text x="1187.7" y="1865.0" font-size="22.8" fill="#131722" text-anchor="middle">12</text>
<text x="1357.6" y="1865.0" font-size="22.8" fill="#131722" text-anchor="middle">13</text>
<text x="1527.5" y="1865.0" font-size="22.8" fill="#131722" text-anchor="middle">14</text>
<text x="1698.2" y="1865.0" font-size="22.8" fill="#131722" text-anchor="middle">15</text>
<text x="1868.0" y="1865.0" font-size="22.8" fill="#131722" font-weight="bold" text-anchor="middle">18</text>
<text x="2038.0" y="1865.0" font-size="22.8" fill="#131722" text-anchor="middle">19</text>
<text x="2207.0" y="1865.0" font-size="22.8" fill="#131722" text-anchor="middle">20</text>
<text x="2377.0" y="1865.0" font-size="22.8" fill="#131722" text-anchor="middle">21</text>
<text x="2547.0" y="1865.0" font-size="22.8" fill="#131722" text-anchor="middle">22</text>
<text x="2717.5" y="1865.0" font-size="22.8" fill="#131722" font-weight="bold" text-anchor="middle">25</text>
<text x="2886.7" y="1865.0" font-size="22.8" fill="#131722" text-anchor="middle">26</text>
<text x="3056.6" y="1865.0" font-size="22.8" fill="#131722" text-anchor="middle">27</text>
<g fill="#131722"><path d="M15.1,1903.1 H26.65 V1917.8 H20.9 V1908.7 H15.1 Z"/><circle cx="31.5" cy="1906.4" r="3.2"/><path d="M38.1,1903.1 H44.3 L38.55,1917.8 H31.9 Z"/></g>
<text x="50.0" y="1919.0" font-size="19.6" fill="#131722" textLength="105.0" lengthAdjust="spacingAndGlyphs">TradingView</text>
</svg></body></html>
